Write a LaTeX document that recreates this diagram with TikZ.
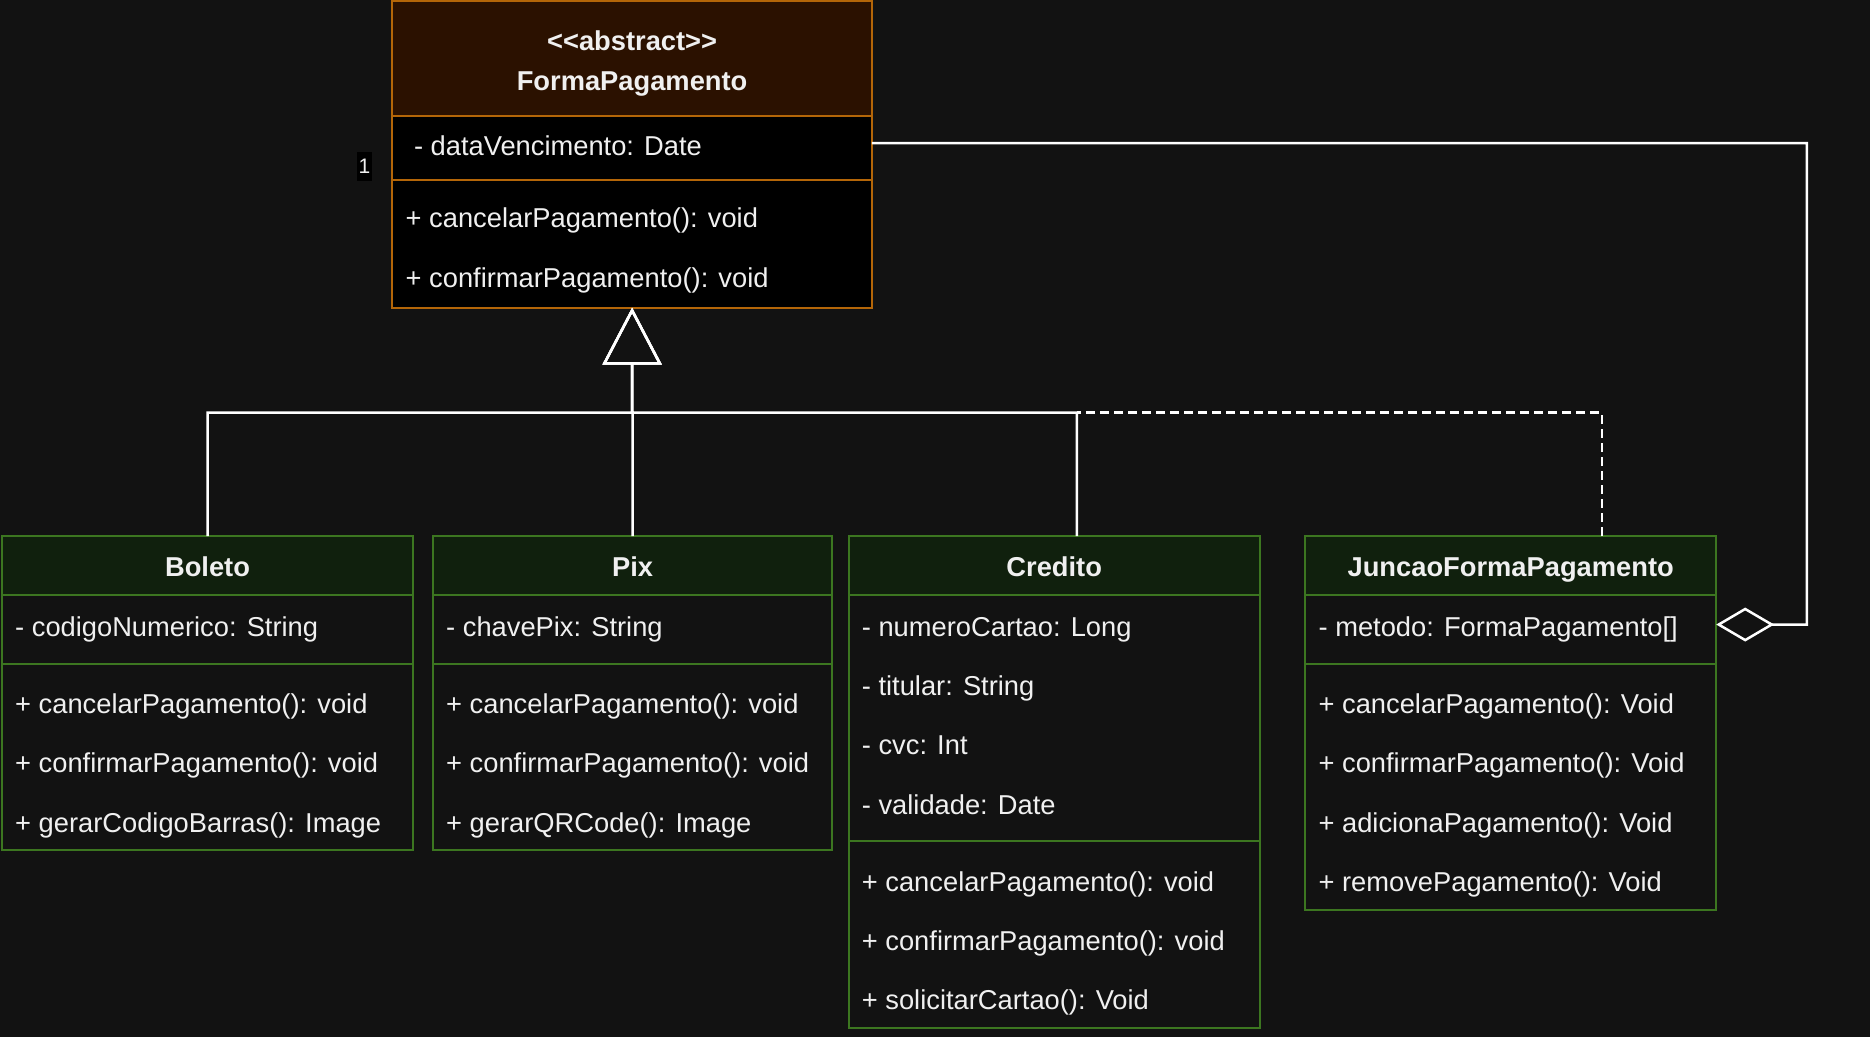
\documentclass[tikz,border=0pt]{standalone}
\usepackage{fontspec}
\setmainfont{Liberation Sans}
\usetikzlibrary{arrows.meta}
\definecolor{bg}{RGB}{18,18,18}
\definecolor{fg}{RGB}{240,240,240}
\definecolor{fphead}{RGB}{43,17,0}
\definecolor{fpborder}{RGB}{180,102,8}
\definecolor{ghfill}{RGB}{16,32,13}
\definecolor{gborder}{RGB}{60,118,32}
\begin{document}
\begin{tikzpicture}[x=1pt,y=-1pt,
  box/.style={draw, line width=2pt, anchor=north west, inner sep=0pt, outer sep=0pt},
  ghead/.style={box, draw=gborder, fill=ghfill},
  gbody/.style={box, draw=gborder, fill=bg},
  fhead/.style={box, draw=fpborder, fill=fphead},
  fbody/.style={box, draw=fpborder, fill=black},
  txt/.style={text=fg, font=\fontsize{27.3}{32}\selectfont, inner sep=0pt, text height=19.5pt, text depth=0pt},
  row/.style={txt, anchor=west},
  title/.style={txt, font=\bfseries\fontsize{27.3}{32}\selectfont},
  conn/.style={draw=white, line width=2.5pt},
  gen/.style={conn, -{Triangle[open, length=57pt, width=59pt]}},
  realz/.style={conn, dash pattern=on 9pt off 5pt},
  agg/.style={conn, -{Diamond[open, length=58pt, width=34pt]}},
]
\fill[bg] (0,0) rectangle (1870,1037);
\useasboundingbox (0,0) rectangle (1870,1037);

% FormaPagamento
\node[fhead, minimum width=479.4pt, minimum height=114.5pt] (fpH) at (392.4,1.2) {};
\node[fbody, minimum width=479.4pt, minimum height=64.4pt] (fpA) at (392.4,115.7) {};
\node[fbody, minimum width=479.4pt, minimum height=127.6pt] (fpM) at (392.4,180.1) {};
\node[title] (fpT1) at (632.1,40.5) {<\kern0pt<abstract>\kern0pt>};
\node[title] (fpT2) at (632.1,81.1) {FormaPagamento};
\node[row] (fpA1) at (413.8,145.5) {- dataVencimento: Date};
\node[row] (fpM1) at (405.5,218.2) {+ cancelarPagamento(): void};
\node[row] (fpM2) at (405.5,277.9) {+ confirmarPagamento(): void};
\node[fill=black, text=fg, font=\fontsize{21}{24}\selectfont, inner sep=0pt, minimum width=15pt, minimum height=29pt] (mult) at (364.5,166.5) {1};

% Boleto
\node[ghead, minimum width=410.2pt, minimum height=59pt] (bolH) at (2.4,536) {};
\node[gbody, minimum width=410.2pt, minimum height=69pt] (bolA) at (2.4,595) {};
\node[gbody, minimum width=410.2pt, minimum height=186pt] (bolM) at (2.4,664) {};
\node[title] (bolT) at (207.5,566.3) {Boleto};
\node[row] (bolA1) at (15,626.3) {- codigoNumerico: String};
\node[row] (bolM1) at (15,703.7) {+ cancelarPagamento(): void};
\node[row] (bolM2) at (15,763.2) {+ confirmarPagamento(): void};
\node[row] (bolM3) at (15,822.5) {+ gerarCodigoBarras(): Image};

% Pix
\node[ghead, minimum width=399.5pt, minimum height=59pt] (pixH) at (432.9,536) {};
\node[gbody, minimum width=399.5pt, minimum height=69pt] (pixA) at (432.9,595) {};
\node[gbody, minimum width=399.5pt, minimum height=186pt] (pixM) at (432.9,664) {};
\node[title] (pixT) at (632.6,566.3) {Pix};
\node[row] (pixA1) at (446,626.3) {- chavePix: String};
\node[row] (pixM1) at (446,703.7) {+ cancelarPagamento(): void};
\node[row] (pixM2) at (446,763.2) {+ confirmarPagamento(): void};
\node[row] (pixM3) at (446,822.5) {+ gerarQRCode(): Image};

% Credito
\node[ghead, minimum width=411.5pt, minimum height=59pt] (crdH) at (848.5,536) {};
\node[gbody, minimum width=411.5pt, minimum height=246.3pt] (crdA) at (848.5,595) {};
\node[gbody, minimum width=411.5pt, minimum height=186.7pt] (crdM) at (848.5,841.3) {};
\node[title] (crdT) at (1054.2,566.3) {Credito};
\node[row] (crdA1) at (861.7,626.3) {- numeroCartao: Long};
\node[row] (crdA2) at (861.7,685.6) {- titular: String};
\node[row] (crdA3) at (861.7,745) {- cvc: Int};
\node[row] (crdA4) at (861.7,804.3) {- validade: Date};
\node[row] (crdM1) at (861.7,881.5) {+ cancelarPagamento(): void};
\node[row] (crdM2) at (861.7,940.9) {+ confirmarPagamento(): void};
\node[row] (crdM3) at (861.7,1000.2) {+ solicitarCartao(): Void};

% JuncaoFormaPagamento
\node[ghead, minimum width=410.9pt, minimum height=59pt] (junH) at (1305.3,536) {};
\node[gbody, minimum width=410.9pt, minimum height=68.7pt] (junA) at (1305.3,595) {};
\node[gbody, minimum width=410.9pt, minimum height=246.6pt] (junM) at (1305.3,663.7) {};
\node[title] (junT) at (1510.7,566.3) {JuncaoFormaPagamento};
\node[row] (junA1) at (1318.4,626.3) {- metodo: FormaPagamento[]};
\node[row] (junM1) at (1318.4,703.7) {+ cancelarPagamento(): Void};
\node[row] (junM2) at (1318.4,763.2) {+ confirmarPagamento(): Void};
\node[row] (junM3) at (1318.4,822.5) {+ adicionaPagamento(): Void};
\node[row] (junM4) at (1318.4,881.5) {+ removePagamento(): Void};

% connectors
\coordinate (hub) at (632.1,412.7);
\coordinate (cj) at (1076.7,412.7);
\coordinate (aggX) at (1806.8,624.5);
\draw[realz] ([xshift=91pt]junH.north) |- (cj);
\draw[gen] (bolH.north) |- (hub) -- (fpM.south);
\draw[gen] ([xshift=22.5pt]crdH.north) |- (hub) -- (fpM.south);
\draw[gen] (pixH.north) |- (hub) -- (fpM.south);
\draw[agg] ([yshift=4.8pt]fpA.east) -| (aggX) -- ([yshift=4.8pt]junA.east);
\end{tikzpicture}
\end{document}
